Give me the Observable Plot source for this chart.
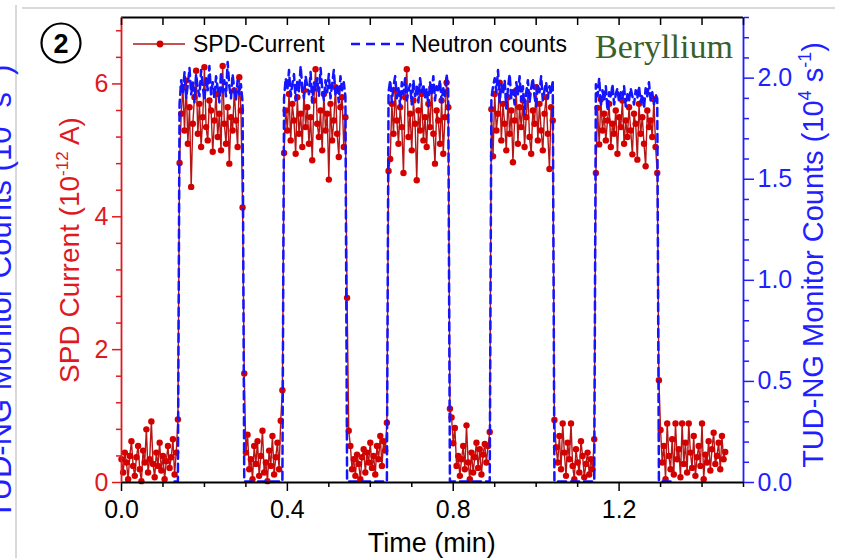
<!DOCTYPE html>
<html><head><meta charset="utf-8">
<script src="https://cdn.jsdelivr.net/npm/d3@7"></script>
<script src="https://cdn.jsdelivr.net/npm/@observablehq/plot@0.6"></script>
<style>html,body{margin:0;padding:0;background:#fff;} #chart{width:841px;height:558px;overflow:hidden;position:relative;}</style>
</head><body><div id="chart"></div>
<script>
// ---- data (time in min, SPD current in 1e-12 A, neutron counts in 1e4 s^-1) ----
const step = 0.004;
const spdStart = [0, 0.140, 0.296, 0.392, 0.544, 0.644, 0.792, 0.892, 1.044, 1.144, 1.296];
const spdOff0 = [0.35,0.15,0.45,0.30,0.05,0.40,0.62,0.25,0.10,0.38,0.55,0.20,0.02,0.48,0.30,0.80,0.15,0.35,0.92,0.28,0.08,0.45,0.25,0.60,0.18,0.40,0.05,0.32,0.55,0.22,0.38,0.65,0.12,0.45,0.95];
const spdOn1 = [4.81,5.55,5.95,5.30,6.05,5.10,5.65,4.45,5.40,5.80,6.20,5.25,5.70,5.05,5.50,6.25,5.35,5.15,5.75,5.60,4.98,5.45,5.85,5.20,5.55,5.00,6.27,5.40,5.10,5.65,4.80,5.50,5.30,5.90,5.45,5.05,6.10,5.60,4.14];
const spdOff1 = [1.64,0.45,0.72,0.20,0.35,0.05,0.55,0.28,0.62,0.10,0.40,0.78,0.15,0.30,0.02,0.48,0.25,0.70,0.12,0.38,0.60,0.20,0.93,1.39];
const spdOn2 = [4.96,5.60,5.30,5.85,5.15,5.70,5.45,4.95,5.80,5.25,5.55,5.05,5.90,5.35,5.65,5.10,5.50,4.85,5.75,6.22,5.40,5.20,5.60,5.00,5.85,5.30,5.55,4.56,5.70,5.15,5.45,5.95,5.25,4.90,5.65,5.80,5.05,5.50];
const spdOff2 = [2.78,0.78,0.55,0.20,0.35,0.10,0.42,0.28,0.05,0.38,0.50,0.15,0.45,0.30,0.60,0.22,0.40,0.12,0.55,0.35,0.70,0.25,0.62,0.48,0.90];
const spdOn3 = [4.69,4.87,5.70,5.25,5.90,5.45,5.10,5.65,5.35,4.66,5.80,6.22,5.20,5.55,5.00,5.75,5.40,4.55,5.60,5.30,5.85,5.15,5.50,5.05,5.70,5.35,5.95,5.25,4.80,5.60,5.45,5.10,5.75,4.95,5.50,6.02,5.65];
const spdOff3 = [1.11,0.98,0.59,0.82,0.25,0.40,0.10,0.35,0.55,0.20,0.86,0.30,0.05,0.45,0.15,0.38,0.60,0.22,0.50,0.12,0.42,0.58,0.30,0.55,0.76];
const spdOn4 = [5.62,4.91,5.85,5.30,5.55,6.02,5.15,5.70,5.40,5.00,5.80,5.25,5.60,4.82,5.45,5.90,5.10,5.65,5.35,5.75,5.05,5.50,5.85,5.20,4.95,5.60,5.40,5.95,5.15,5.70,5.30,5.00,5.55,5.80,5.25,4.72,5.65,5.45];
const spdOff4 = [0.94,0.53,0.30,0.70,0.20,0.89,0.45,0.10,0.60,0.35,0.89,0.25,0.05,0.50,0.30,0.15,0.62,0.40,0.08,0.28,0.45,0.12,0.35,0.20,0.65];
const spdOn5 = [4.66,5.64,5.09,5.77,5.30,5.55,5.15,5.45,5.70,5.05,5.40,5.25,5.60,4.95,5.50,5.35,5.75,5.10,5.45,5.20,5.65,5.30,4.94,5.55,5.40,4.86,5.70,5.25,5.50,5.10,4.76,5.60,5.35,5.45,5.20,5.77,5.05,4.66];
const spdOff5 = [1.54,0.79,0.30,0.55,0.05,0.89,0.40,0.20,0.65,0.12,0.89,0.35,0.50,0.08,0.89,0.28,0.60,0.15,0.89,0.45,0.22,0.70,0.10,0.38,0.55,0.25,0.89,0.05,0.42,0.30,0.62,0.18,0.50,0.75,0.28,0.40,0.60,0.20,0.70,0.35,0.46];

const nStart = [0.128, 0.140, 0.296, 0.392, 0.544, 0.644, 0.792, 0.892, 1.044, 1.144, 1.296];
const nOff0 = [0.005,0.005,0.005];
const nOn1 = [1.87,1.99,1.93,2.03,1.90,1.97,2.05,1.92,1.98,1.88,2.02,1.95,1.91,2.04,1.96,1.89,2.00,1.94,2.06,1.92,1.98,1.90,2.01,1.95,1.88,2.03,1.93,1.99,1.91,2.08,1.96,1.90,2.02,1.94,1.89,1.99,1.92,1.97,1.88];
const nOff1 = [0.005,0.005,0.005,0.005,0.005,0.005,0.005,0.005,0.005,0.005,0.005,0.005,0.005,0.005,0.005,0.005,0.005,0.005,0.005,0.005,0.005,0.005,0.005,0.005];
const nOn2 = [1.90,2.00,1.94,2.04,1.91,1.97,2.02,1.89,1.99,1.93,2.06,1.95,1.90,2.01,1.96,1.92,2.03,1.88,1.98,1.94,2.00,1.91,2.05,1.95,1.89,1.99,1.93,2.02,1.90,1.97,2.04,1.92,1.96,1.88,2.01,1.94,1.98,1.91];
const nOff2 = [0.005,0.005,0.005,0.005,0.005,0.005,0.005,0.005,0.005,0.005,0.005,0.005,0.005,0.005,0.005,0.005,0.005,0.005,0.005,0.005,0.005,0.005,0.005,0.005,0.005];
const nOn3 = [1.93,1.99,1.88,1.96,2.01,1.90,1.95,1.86,1.98,1.92,2.00,1.89,1.94,1.97,1.87,1.99,1.91,1.96,1.88,2.00,1.93,1.97,1.90,1.95,1.86,1.98,1.92,2.01,1.89,1.96,1.93,1.99,1.88,1.95,1.91,2.02,1.94];
const nOff3 = [0.005,0.005,0.005,0.005,0.005,0.005,0.005,0.005,0.005,0.005,0.005,0.005,0.005,0.005,0.005,0.005,0.005,0.005,0.005,0.005,0.005,0.005,0.005,0.005,0.005];
const nOn4 = [1.90,1.96,2.00,1.93,2.04,1.88,1.97,1.92,1.99,1.85,1.95,2.02,1.90,1.94,1.87,1.98,1.92,2.01,1.89,1.96,1.82,1.93,1.99,1.88,1.95,2.00,1.91,1.86,1.97,1.93,2.01,1.89,1.94,1.98,1.90,1.96,1.92,1.99];
const nOff4 = [0.005,0.005,0.005,0.005,0.005,0.005,0.005,0.005,0.005,0.005,0.005,0.005,0.005,0.005,0.005,0.005,0.005,0.005,0.005,0.005,0.005,0.005,0.005,0.005,0.005];
const nOn5 = [1.97,1.91,2.00,1.86,1.94,1.89,1.96,1.84,1.93,1.90,1.97,1.87,1.92,1.95,1.88,1.93,1.90,1.96,1.86,1.92,1.89,1.95,1.91,1.87,1.94,1.90,1.96,1.88,1.92,1.85,1.95,1.91,1.98,1.89,1.93,1.87,1.92,1.90];
const nOff5 = [0.005,0.005,0.005,0.005,0.005,0.005,0.005,0.005,0.005,0.005];

// ---- ticks ----
const xMajor = [0.0, 0.4, 0.8, 1.2];
const yLeftMajor = [0, 2, 4, 6];
const yRightMajor = [0.0, 0.5, 1.0, 1.5, 2.0];
const xDomain = [0, 1.5], yLeftDomain = [0, 7], yRightDomain = [0, 2.3];

// ---- build rows ----
const spdSegs = [spdOff0, spdOn1, spdOff1, spdOn2, spdOff2, spdOn3, spdOff3, spdOn4, spdOff4, spdOn5, spdOff5];
const nSegs = [nOff0, nOn1, nOff1, nOn2, nOff2, nOn3, nOff3, nOn4, nOff4, nOn5, nOff5];
const spdRows = [], nRows = [];
spdSegs.forEach((seg, k) => seg.forEach((v, i) => spdRows.push({t: spdStart[k] + i * step, v})));
nSegs.forEach((seg, k) => seg.forEach((v, i) => nRows.push({t: nStart[k] + i * step, n: v})));
const kR = yLeftDomain[1] / yRightDomain[1];

const RED = "#e0191e", BLUE = "#1f1fff";
const xMinor = d3.range(0, 1.5001, 0.1).map(v => +v.toFixed(2)).filter(v => !xMajor.some(m => Math.abs(m - v) < 1e-6));
const xAllTop = d3.range(0, 1.5001, 0.1).map(v => +v.toFixed(2));
const yLeftMinor = d3.range(0, 7.001, 0.4).map(v => +v.toFixed(2)).filter(v => !yLeftMajor.includes(v));
const yRightMinor = d3.range(0, 2.3001, 0.1).map(v => +v.toFixed(2)).filter(v => !yRightMajor.some(m => Math.abs(m - v) < 1e-6));
const empty = () => "";

const plot = Plot.plot({
  width: 841, height: 558,
  marginLeft: 121, marginRight: 98, marginTop: 17, marginBottom: 76,
  x: {domain: xDomain},
  y: {domain: yLeftDomain},
  style: {fontFamily: "'Liberation Sans', Arial, sans-serif", background: "#fff", overflow: "visible"},
  marks: [
    Plot.line(spdRows, {x: "t", y: "v", stroke: "#b51616", strokeWidth: 1.4}),
    Plot.dot(spdRows, {x: "t", y: "v", r: 3.2, fill: "#d40000", stroke: "none"}),
    Plot.line(nRows, {x: "t", y: d => d.n * kR, stroke: "#1414ff", strokeWidth: 2.5, strokeDasharray: "8,5"}),
    // frame
    Plot.ruleY([yLeftDomain[0]], {stroke: "#000", strokeWidth: 1.8}),
    Plot.ruleY([yLeftDomain[1]], {stroke: "#000", strokeWidth: 1.8}),
    Plot.ruleX([xDomain[0]], {stroke: RED, strokeWidth: 1.8}),
    Plot.ruleX([xDomain[1]], {stroke: BLUE, strokeWidth: 1.8}),
    // bottom axis
    Plot.axisX({ticks: xMajor, tickSize: 9, tickPadding: 9, tickFormat: d3.format(".1f"), label: null, fontSize: 25, color: "#000", strokeWidth: 1.5}),
    Plot.axisX({ticks: xMinor, tickSize: 5, tickFormat: empty, label: null, color: "#000", strokeWidth: 1.5}),
    // top axis (inward ticks)
    Plot.axisX({anchor: "top", ticks: xAllTop, tickSize: 7, dy: 7, tickFormat: empty, label: null, color: "#000", strokeWidth: 1.5}),
    // left axis
    Plot.axisY({ticks: yLeftMajor, tickSize: 9, tickPadding: 4, tickFormat: d3.format("d"), label: null, fontSize: 25, color: RED, strokeWidth: 1.5}),
    Plot.axisY({ticks: yLeftMinor, tickSize: 5, tickFormat: empty, label: null, color: RED, strokeWidth: 1.5}),
    // right axis
    Plot.axisY({anchor: "right", ticks: yRightMajor.map(v => v * kR), tickSize: 10, tickPadding: 4, tickFormat: d => (d / kR).toFixed(1), label: null, fontSize: 25, color: BLUE, strokeWidth: 1.5}),
    Plot.axisY({anchor: "right", ticks: yRightMinor.map(v => v * kR), tickSize: 5, tickFormat: empty, label: null, color: BLUE, strokeWidth: 1.5})
  ]
});
document.getElementById("chart").appendChild(plot);

// ---- annotations ----
const svg = d3.select(plot);
const FONT = "'Liberation Sans', Arial, sans-serif";
// page border decorations
svg.append("line").attr("x1", 16).attr("x2", 16).attr("y1", 5).attr("y2", 558).attr("stroke", "#d9d9d9").attr("stroke-width", 2);
svg.append("line").attr("x1", 22).attr("x2", 835).attr("y1", 8).attr("y2", 8).attr("stroke", "#d9d9d9").attr("stroke-width", 2);

function rotTitle(x, y, color, size, parts) {
  const t = svg.append("text").attr("transform", `translate(${x},${y}) rotate(-90)`)
    .attr("text-anchor", "middle").attr("fill", color).attr("font-family", FONT).attr("font-size", size);
  parts.forEach(([s, sup], i) => {
    const sp = t.append("tspan").text(s);
    if (sup) sp.attr("font-size", Math.round(size * 0.62)).attr("dy", -size * 0.4);
    else {
      sp.attr("font-size", size);
      if (i > 0 && parts[i - 1][1]) sp.attr("dy", size * 0.4);
    }
  });
  return t;
}
// clipped neighbour-panel title at far left
rotTitle(10.5, 292, BLUE, 31, [["TUD-NG Monitor Counts (10"], ["4", true], [" s"], ["-1", true], [")"]]);
// left title
rotTitle(79, 250, RED, 28, [["SPD Current (10"], ["-12", true], [" A)"]]);
// right title
rotTitle(823, 255, BLUE, 29, [["TUD-NG Monitor Counts (10"], ["4", true], [" s"], ["-1", true], [")"]]);
// x title
svg.append("text").attr("x", 431.7).attr("y", 552).attr("text-anchor", "middle").attr("font-family", FONT)
  .attr("font-size", 27).attr("fill", "#000").text("Time (min)");

// circled number
svg.append("circle").attr("cx", 61).attr("cy", 43).attr("r", 19.5).attr("fill", "none").attr("stroke", "#000").attr("stroke-width", 2.2);
svg.append("text").attr("x", 61).attr("y", 43).attr("dy", "0.36em").attr("text-anchor", "middle").attr("font-family", FONT)
  .attr("font-weight", "bold").attr("font-size", 27).attr("fill", "#000").text("2");

// legend
const legY = 44;
svg.append("line").attr("x1", 133).attr("x2", 185).attr("y1", legY).attr("y2", legY).attr("stroke", "#b51616").attr("stroke-width", 1.6);
svg.append("circle").attr("cx", 160).attr("cy", legY).attr("r", 3.4).attr("fill", "#d40000");
svg.append("text").attr("x", 193).attr("y", legY).attr("dy", "0.36em").attr("text-anchor", "start").attr("font-family", FONT).attr("font-size", 23).attr("fill", "#000").text("SPD-Current");
svg.append("line").attr("x1", 351).attr("x2", 404).attr("y1", legY).attr("y2", legY).attr("stroke", "#1414ff").attr("stroke-width", 2.5).attr("stroke-dasharray", "9,6");
svg.append("text").attr("x", 411).attr("y", legY).attr("dy", "0.36em").attr("text-anchor", "start").attr("font-family", FONT).attr("font-size", 23).attr("fill", "#000").text("Neutron counts");
svg.append("text").attr("x", 595).attr("y", 58).attr("text-anchor", "start").attr("font-family", "'Liberation Serif', 'Times New Roman', serif").attr("font-size", 34).attr("fill", "#3a5f2a").text("Beryllium");
</script></body></html>
